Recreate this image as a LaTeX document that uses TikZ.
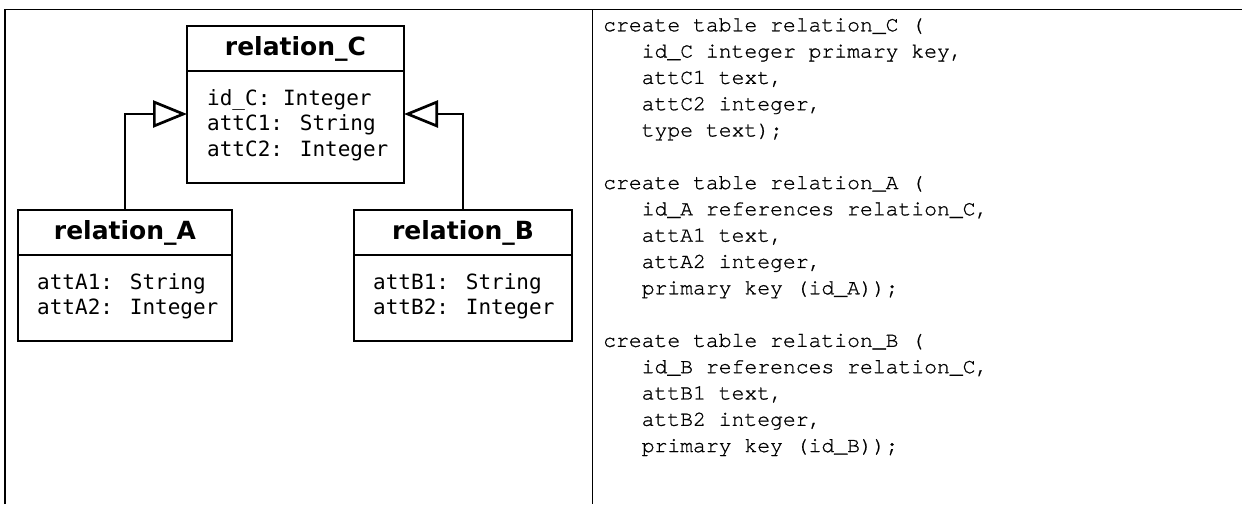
\documentclass[tikz,border=0pt]{standalone}
\usepackage{fontspec}
\usetikzlibrary{positioning,arrows.meta}
\newfontfamily\umlhead{DejaVu Sans}
\newfontfamily\umlattr{DejaVu Sans Mono}
\newfontfamily\sqlfont{TeX Gyre Cursor}[FakeBold=0.9]
\newcommand\ind{\hphantom{xxx}}

\tikzset{
    clshead/.style={draw,line width=2.7pt,outer sep=0pt,inner sep=0pt,minimum height=45pt,
        font=\umlhead\bfseries\fontsize{25}{30}\selectfont},
    clsbody/.style={draw,line width=2.7pt,outer sep=0pt,inner sep=0pt},
    attr/.style={anchor=north west,align=left,inner sep=0pt,
        font=\umlattr\fontsize{21}{25.5}\selectfont},
    isa/.style={line width=2.7pt,-{Triangle[open,length=34pt,width=27pt]}}
}

\begin{document}
\begin{tikzpicture}[x=1pt,y=-1pt]
    \useasboundingbox (0,0) rectangle (1242,504);

    % frame of the two panels
    \draw[line width=1.8pt] (4.7,504) -- (4.7,9.5) -- (1242,9.5);
    \draw[line width=1.8pt] (592.5,9.5) -- (592.5,504);

    % superclass
    \node[clshead,minimum width=217pt] (cH) at (295.5,48.5) {relation\_C};
    \node[clsbody,minimum width=217pt,minimum height=112pt,below=0pt of cH] (cB) {};
    \node[attr] (cT) at ([shift={(20pt,-18pt)}]cB.north west) {id\_C: Integer\\
        attC1: String\\
        attC2: Integer};

    % subclasses
    \node[clshead,minimum width=214pt] (aH) at (125,232.5) {relation\_A};
    \node[clsbody,minimum width=214pt,minimum height=86pt,below=0pt of aH] (aB) {};
    \node[attr] (aT) at ([shift={(19pt,-18pt)}]aB.north west) {attA1: String\\
        attA2: Integer};

    \node[clshead,minimum width=218pt] (bH) at (463,232.5) {relation\_B};
    \node[clsbody,minimum width=218pt,minimum height=86pt,below=0pt of bH] (bB) {};
    \node[attr] (bT) at ([shift={(19pt,-18pt)}]bB.north west) {attB1: String\\
        attB2: Integer};

    \draw[isa] (aH.north) |- ([yshift=13pt]cB.west);
    \draw[isa] (bH.north) |- ([yshift=13pt]cB.east);

    % sql
    \node[anchor=north west,align=left,inner sep=0pt,
        font=\sqlfont\fontsize{21.4}{26.3}\selectfont] (sql) at (603,18) {create table relation\_C (\\
        \ind id\_C integer primary key,\\
        \ind attC1 text,\\
        \ind attC2 integer,\\
        \ind type text);\\[26.3pt]
        create table relation\_A (\\
        \ind id\_A references relation\_C,\\
        \ind attA1 text,\\
        \ind attA2 integer,\\
        \ind primary key (id\_A));\\[26.3pt]
        create table relation\_B (\\
        \ind id\_B references relation\_C,\\
        \ind attB1 text,\\
        \ind attB2 integer,\\
        \ind primary key (id\_B));};

\end{tikzpicture}
\end{document}
